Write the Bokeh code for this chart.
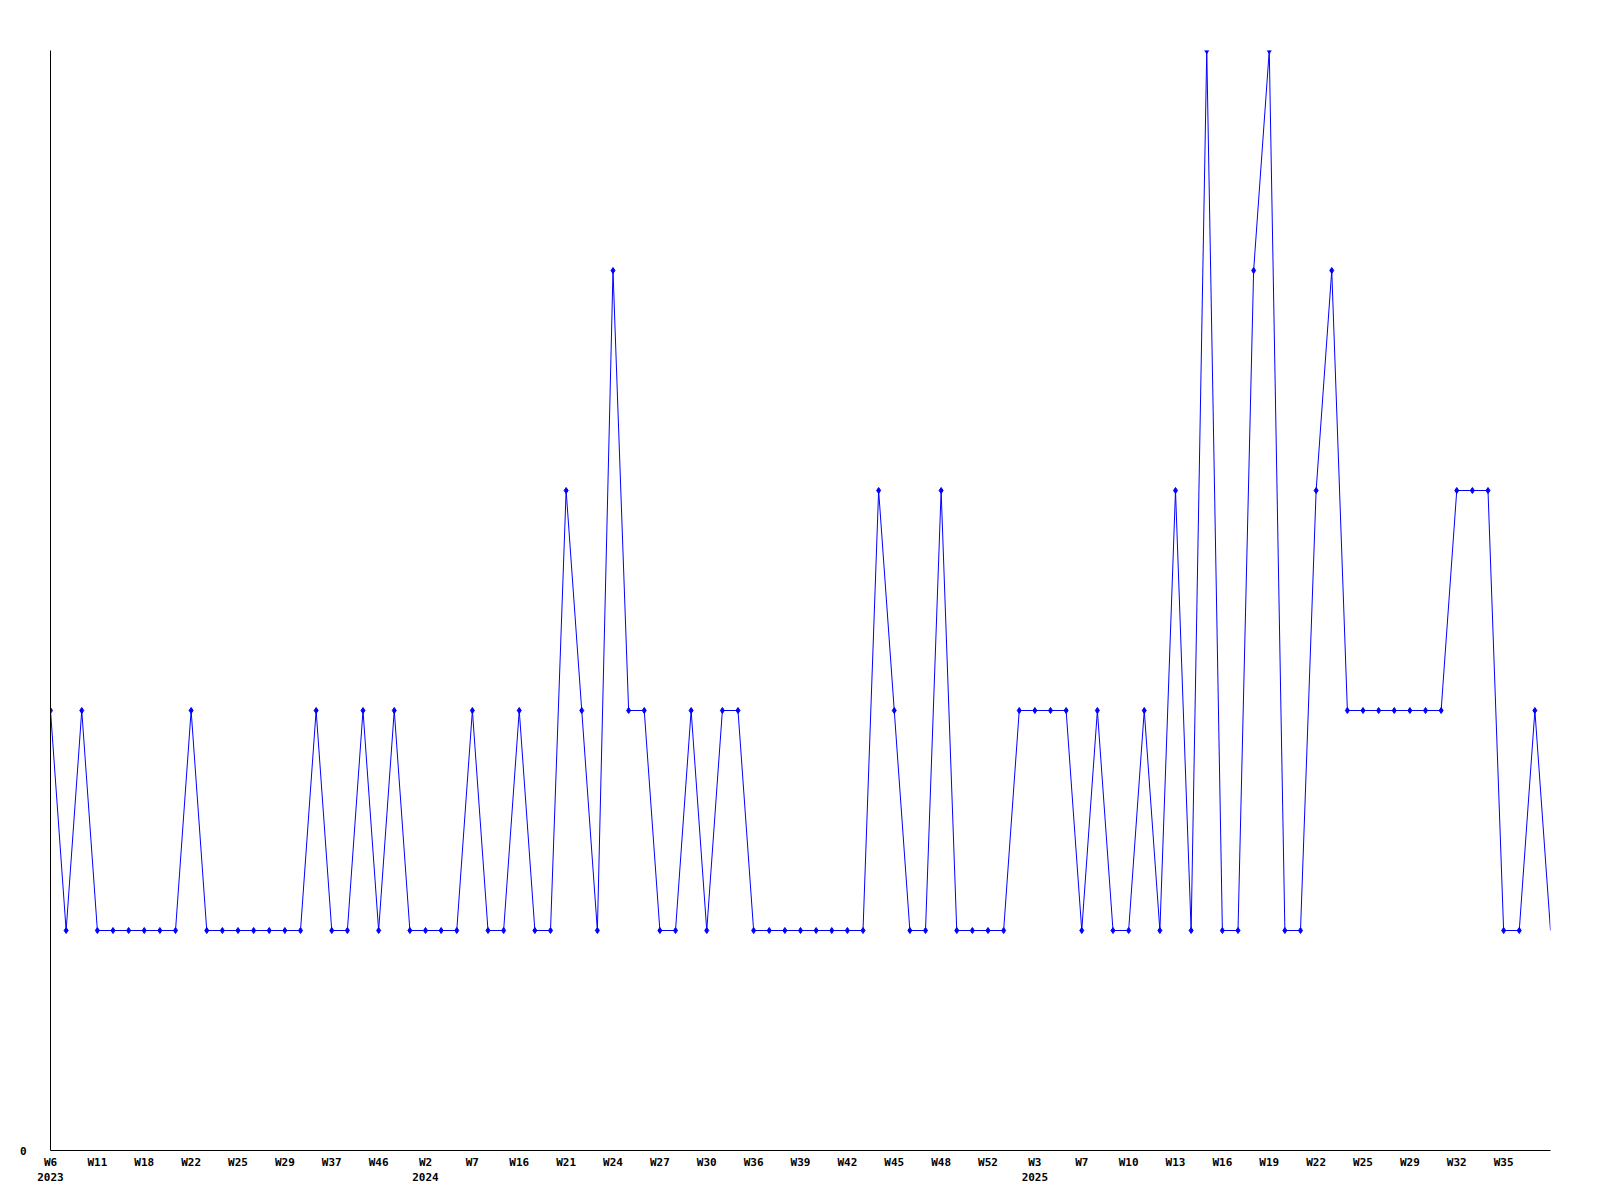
from bokeh.plotting import figure
from bokeh.models import Range1d, FixedTicker, CustomJSTickFormatter
from bokeh.embed import file_html
from bokeh.resources import INLINE

# weekly counts, one per data point (categorical sequence)
values = [2, 1, 2, 1, 1, 1, 1, 1, 1, 2,
          1, 1, 1, 1, 1, 1, 1, 2, 1, 1,
          2, 1, 2, 1, 1, 1, 1, 2, 1, 1,
          2, 1, 1, 3, 2, 1, 4, 2, 2, 1,
          1, 2, 1, 2, 2, 1, 1, 1, 1, 1,
          1, 1, 1, 3, 2, 1, 1, 3, 1, 1,
          1, 1, 2, 2, 2, 2, 1, 2, 1, 1,
          2, 1, 3, 1, 5, 1, 1, 4, 5, 1,
          1, 3, 4, 2, 2, 2, 2, 2, 2, 2,
          3, 3, 3, 1, 1, 2, 1]

# one label every third point
tick_labels = ["W6\n2023", "W11", "W18", "W22", "W25", "W29", "W37", "W46",
               "W2\n2024", "W7", "W16", "W21", "W24", "W27", "W30", "W36",
               "W39", "W42", "W45", "W48", "W52", "W3\n2025", "W7", "W10",
               "W13", "W16", "W19", "W22", "W25", "W29", "W32", "W35"]
tick_step = 3

x = list(range(len(values)))
ticks = [k * tick_step for k in range(len(tick_labels))]

W, H = 1592, 1192
BL, BR, BT, BB = 50, 42, 50, 42

p = figure(width=W, height=H, output_backend="svg", toolbar_location=None,
           x_range=Range1d(0, len(values) - 1), y_range=Range1d(0, 5),
           min_border_left=BL, min_border_right=BR,
           min_border_top=BT, min_border_bottom=BB)
p.outline_line_color = None
p.grid.visible = False
p.background_fill_color = "white"
p.border_fill_color = "white"

p.line(x, values, line_color="#0000ff", line_width=1)
p.scatter(x[:-1], values[:-1], marker="diamond", size=6,
          fill_color="#0000ff", line_color="#0000ff")

xa = p.xaxis[0]
xa.ticker = FixedTicker(ticks=ticks)
xa.formatter = CustomJSTickFormatter(args=dict(labels=tick_labels, step=tick_step),
                                     code="return labels[Math.round(tick / step)] || '';")
xa.major_tick_line_color = None
xa.minor_tick_line_color = None
xa.major_tick_out = 0
xa.major_tick_in = 0
xa.minor_tick_out = 0
xa.minor_tick_in = 0
xa.axis_line_color = "black"
xa.major_label_text_font = "DejaVu Sans Mono"
xa.major_label_text_font_style = "bold"
xa.major_label_text_font_size = "11px"
xa.major_label_text_color = "black"
xa.major_label_standoff = 5

ya = p.yaxis[0]
ya.ticker = FixedTicker(ticks=[0])
ya.major_tick_line_color = None
ya.minor_tick_line_color = None
ya.major_tick_out = 0
ya.major_tick_in = 0
ya.minor_tick_out = 0
ya.minor_tick_in = 0
ya.axis_line_color = "black"
ya.major_label_text_font = "DejaVu Sans Mono"
ya.major_label_text_font_style = "bold"
ya.major_label_text_font_size = "11px"
ya.major_label_text_color = "black"
ya.major_label_standoff = 24

open("out.html", "w").write(file_html(p, INLINE))
